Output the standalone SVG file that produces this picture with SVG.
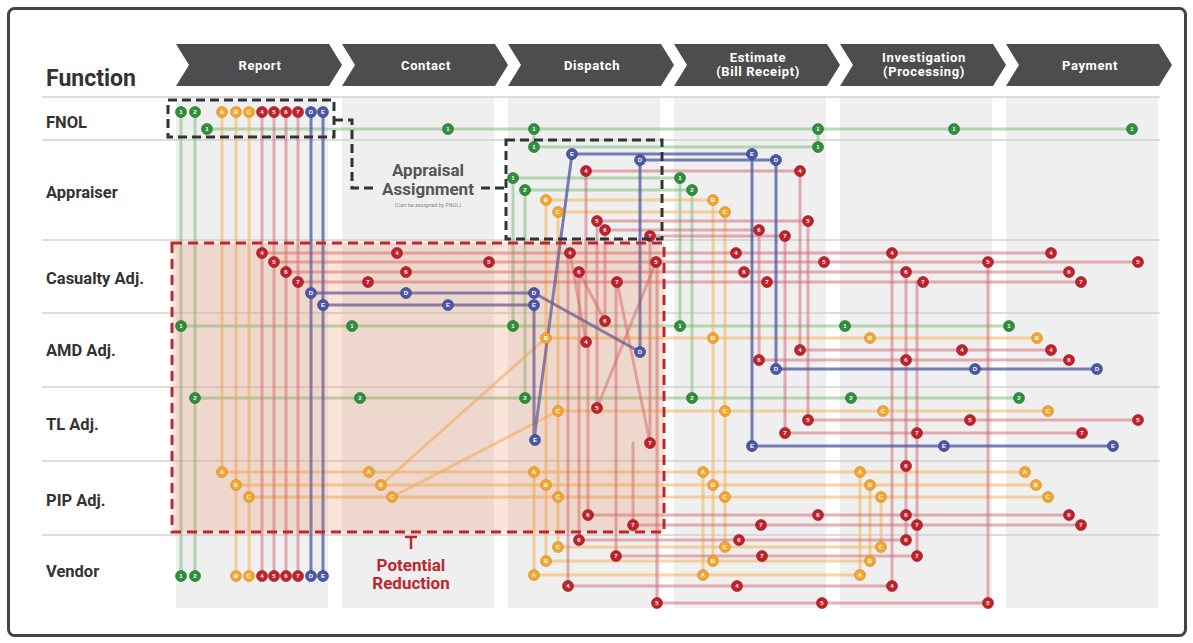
<svg xmlns="http://www.w3.org/2000/svg" xmlns:xlink="http://www.w3.org/1999/xlink" width="1193" height="643" viewBox="0 0 1193 643">
<style>
.hd{font-family:Roboto,"Liberation Sans",sans-serif;font-weight:bold;font-size:13px;fill:#fff;text-anchor:middle;letter-spacing:0.6px}
.rl{font-family:Roboto,"Liberation Sans",sans-serif;font-weight:bold;font-size:16.5px;fill:#333}
.col{fill:#efefef}
.sep{stroke:#d2d2d2;stroke-width:1.5}
.chev{fill:#4d4d4d}
.ln{fill:none;stroke-width:3;stroke-linecap:round}
.g{stroke:#7dbd7d;stroke-opacity:.55}
.o{stroke:#f4b257;stroke-opacity:.55}
.r{stroke:#d2646d;stroke-opacity:.5}
.b{stroke:#4b56a6;stroke-opacity:.75}
.dt{font-family:"Liberation Sans",sans-serif;font-weight:bold;font-size:6px;fill:#fff;text-anchor:middle}
.dash{fill:none;stroke:#333;stroke-width:3;stroke-dasharray:9 5}
</style>
<defs>
<g id="g1"><circle r="5.5" fill="#2f8f3c" stroke="#1f6a2a" stroke-width=".6"/><text class="dt" y="2.2">1</text></g>
<g id="g2"><circle r="5.5" fill="#2f8f3c" stroke="#1f6a2a" stroke-width=".6"/><text class="dt" y="2.2">2</text></g>
<g id="oA"><circle r="5.5" fill="#f2a531" stroke="#d08a20" stroke-width=".6"/><text class="dt" y="2.2">A</text></g>
<g id="oB"><circle r="5.5" fill="#f2a531" stroke="#d08a20" stroke-width=".6"/><text class="dt" y="2.2">B</text></g>
<g id="oC"><circle r="5.5" fill="#f2a531" stroke="#d08a20" stroke-width=".6"/><text class="dt" y="2.2">C</text></g>
<g id="r4"><circle r="5.5" fill="#c0212b" stroke="#8e1820" stroke-width=".6"/><text class="dt" y="2.2">4</text></g>
<g id="r5"><circle r="5.5" fill="#c0212b" stroke="#8e1820" stroke-width=".6"/><text class="dt" y="2.2">5</text></g>
<g id="r6"><circle r="5.5" fill="#c0212b" stroke="#8e1820" stroke-width=".6"/><text class="dt" y="2.2">6</text></g>
<g id="r7"><circle r="5.5" fill="#c0212b" stroke="#8e1820" stroke-width=".6"/><text class="dt" y="2.2">7</text></g>
<g id="bD"><circle r="5.5" fill="#4a56a6" stroke="#323c80" stroke-width=".6"/><text class="dt" y="2.2">D</text></g>
<g id="bE"><circle r="5.5" fill="#4a56a6" stroke="#323c80" stroke-width=".6"/><text class="dt" y="2.2">E</text></g>
</defs>
<rect x="0" y="0" width="1193" height="643" fill="#fff"/>
<rect x="8.5" y="8.5" width="1177" height="627" rx="6" fill="none" stroke="#444" stroke-width="3"/>

<g id="columns">
<rect class="col" x="176" y="97" width="152" height="511"/>
<rect class="col" x="342" y="97" width="152" height="511"/>
<rect class="col" x="508" y="97" width="152" height="511"/>
<rect class="col" x="674" y="97" width="152" height="511"/>
<rect class="col" x="840" y="97" width="152" height="511"/>
<rect class="col" x="1006" y="97" width="152" height="511"/>
</g>
<g id="rows">
<line class="sep" x1="42" y1="97" x2="1160" y2="97"/>
<line class="sep" x1="42" y1="140" x2="1160" y2="140"/>
<line class="sep" x1="42" y1="240" x2="1160" y2="240"/>
<line class="sep" x1="42" y1="313" x2="1160" y2="313"/>
<line class="sep" x1="42" y1="387" x2="1160" y2="387"/>
<line class="sep" x1="42" y1="461" x2="1160" y2="461"/>
<line class="sep" x1="42" y1="535" x2="1160" y2="535"/>
</g>

<g id="header">
<text x="46" y="86" font-family="Roboto,'Liberation Sans',sans-serif" font-weight="bold" font-size="23" fill="#333">Function</text>
<g id="step-report"><path class="chev" d="M176,44H329L342,65L329,86H176L189,65Z"/><text class="hd" x="260" y="70">Report</text></g>
<g id="step-contact"><path class="chev" d="M342,44H495L508,65L495,86H342L355,65Z"/><text class="hd" x="426" y="70">Contact</text></g>
<g id="step-dispatch"><path class="chev" d="M508,44H661L674,65L661,86H508L521,65Z"/><text class="hd" x="592" y="70">Dispatch</text></g>
<g id="step-estimate"><path class="chev" d="M674,44H827L840,65L827,86H674L687,65Z"/><text class="hd" x="758" y="62">Estimate</text><text class="hd" x="758" y="76">(Bill Receipt)</text></g>
<g id="step-investigation"><path class="chev" d="M840,44H993L1006,65L993,86H840L853,65Z"/><text class="hd" x="924" y="62">Investigation</text><text class="hd" x="924" y="76">(Processing)</text></g>
<g id="step-payment"><path class="chev" d="M1006,44H1159L1172,65L1159,86H1006L1019,65Z"/><text class="hd" x="1090" y="70">Payment</text></g>
</g>

<g id="lanes">
<text class="rl" x="46" y="128">FNOL</text>
<text class="rl" x="46" y="198">Appraiser</text>
<text class="rl" x="46" y="284">Casualty Adj.</text>
<text class="rl" x="46" y="356">AMD Adj.</text>
<text class="rl" x="46" y="430">TL Adj.</text>
<text class="rl" x="46" y="506">PIP Adj.</text>
<text class="rl" x="46" y="577">Vendor</text>
</g>

<g id="connectors">
<path class="ln g" d="M181,112V576"/>
<path class="ln g" d="M195,112V576"/>
<path class="ln g" d="M207,129H1132"/>
<path class="ln g" d="M534,129V147H818"/>
<path class="ln g" d="M818,129V147"/>
<path class="ln g" d="M513,326V178H680V326"/>
<path class="ln g" d="M525,398V190H692V398"/>
<path class="ln g" d="M181,326H1009"/>
<path class="ln g" d="M195,398H1019"/>
<path class="ln o" d="M222,112V472"/>
<path class="ln o" d="M236,112V576"/>
<path class="ln o" d="M249,112V576"/>
<path class="ln o" d="M546,561V200H713V561"/>
<path class="ln o" d="M558,547V212H725V547"/>
<path class="ln o" d="M546,338H1037"/>
<path class="ln o" d="M558,411H1048"/>
<path class="ln o" d="M222,472H1025"/>
<path class="ln o" d="M236,485H1036"/>
<path class="ln o" d="M249,497H1048"/>
<path class="ln o" d="M381,485L546,338"/>
<path class="ln o" d="M392,497L558,411"/>
<path class="ln o" d="M534,472V575H860V472"/>
<path class="ln o" d="M703,472V575"/>
<path class="ln o" d="M546,561H870V485"/>
<path class="ln o" d="M558,547H881V497"/>
<path class="ln r" d="M262,112V576"/>
<path class="ln r" d="M274,112V576"/>
<path class="ln r" d="M286,112V576"/>
<path class="ln r" d="M298,112V576"/>
<path class="ln r" d="M262,253H1051"/>
<path class="ln r" d="M274,262H1138"/>
<path class="ln r" d="M286,272H1069"/>
<path class="ln r" d="M298,282H1081"/>
<path class="ln r" d="M586,342V171H800V350H1051"/>
<path class="ln r" d="M597,408V221H808V420H1138"/>
<path class="ln r" d="M605,321V230H759V360H1069"/>
<path class="ln r" d="M650,443V236H785V433H1082"/>
<path class="ln r" d="M570,253L586,342"/>
<path class="ln r" d="M579,272L605,321"/>
<path class="ln r" d="M617,282L650,443"/>
<path class="ln r" d="M656,262L597,408"/>
<path class="ln r" d="M568,253V586H892"/>
<path class="ln r" d="M579,272V540H906"/>
<path class="ln r" d="M616,282V556H917"/>
<path class="ln r" d="M657,262V603H988"/>
<path class="ln r" d="M588,342V515H1069"/>
<path class="ln r" d="M633,443V525H1081"/>
<path class="ln r" d="M892,253V586"/>
<path class="ln r" d="M906,272V540"/>
<path class="ln r" d="M917,282V556"/>
<path class="ln r" d="M988,262V603"/>
<path class="ln b" d="M311,112V576"/>
<path class="ln b" d="M323,112V576"/>
<path class="ln b" d="M311,293H534L640,352V160H776V369H1097"/>
<path class="ln b" d="M323,305H534V440L572,154H752V446H1113"/>
</g>

<g id="reduction-fill">
<rect x="172" y="243" width="492" height="289" fill="#ea7a45" fill-opacity=".2"/>
</g>

<g id="dots">
<use href="#g1" x="181" y="112"/><use href="#g1" x="181" y="576"/><use href="#g1" x="207" y="129"/><use href="#g1" x="448" y="129"/><use href="#g1" x="534" y="129"/><use href="#g1" x="818" y="129"/><use href="#g1" x="954" y="129"/><use href="#g1" x="1132" y="129"/><use href="#g1" x="534" y="147"/><use href="#g1" x="818" y="147"/><use href="#g1" x="513" y="178"/><use href="#g1" x="680" y="178"/><use href="#g1" x="181" y="326"/><use href="#g1" x="352" y="326"/><use href="#g1" x="513" y="326"/><use href="#g1" x="680" y="326"/><use href="#g1" x="845" y="326"/><use href="#g1" x="1009" y="326"/>
<use href="#g2" x="195" y="112"/><use href="#g2" x="195" y="576"/><use href="#g2" x="525" y="190"/><use href="#g2" x="692" y="190"/><use href="#g2" x="195" y="398"/><use href="#g2" x="360" y="398"/><use href="#g2" x="525" y="398"/><use href="#g2" x="692" y="398"/><use href="#g2" x="851" y="398"/><use href="#g2" x="1019" y="398"/>
<use href="#oA" x="222" y="112"/><use href="#oA" x="222" y="472"/><use href="#oA" x="369" y="472"/><use href="#oA" x="534" y="472"/><use href="#oA" x="703" y="472"/><use href="#oA" x="860" y="472"/><use href="#oA" x="1025" y="472"/><use href="#oA" x="534" y="575"/><use href="#oA" x="703" y="575"/><use href="#oA" x="860" y="575"/>
<use href="#oB" x="236" y="112"/><use href="#oB" x="236" y="576"/><use href="#oB" x="546" y="200"/><use href="#oB" x="713" y="200"/><use href="#oB" x="546" y="338"/><use href="#oB" x="713" y="338"/><use href="#oB" x="870" y="338"/><use href="#oB" x="1037" y="338"/><use href="#oB" x="236" y="485"/><use href="#oB" x="381" y="485"/><use href="#oB" x="546" y="485"/><use href="#oB" x="713" y="485"/><use href="#oB" x="870" y="485"/><use href="#oB" x="1036" y="485"/><use href="#oB" x="546" y="561"/><use href="#oB" x="713" y="561"/><use href="#oB" x="870" y="561"/>
<use href="#oC" x="249" y="112"/><use href="#oC" x="249" y="576"/><use href="#oC" x="558" y="212"/><use href="#oC" x="725" y="212"/><use href="#oC" x="558" y="411"/><use href="#oC" x="725" y="411"/><use href="#oC" x="883" y="411"/><use href="#oC" x="1048" y="411"/><use href="#oC" x="249" y="497"/><use href="#oC" x="392" y="497"/><use href="#oC" x="558" y="497"/><use href="#oC" x="725" y="497"/><use href="#oC" x="881" y="497"/><use href="#oC" x="1048" y="497"/><use href="#oC" x="558" y="547"/><use href="#oC" x="725" y="547"/><use href="#oC" x="881" y="547"/>
<use href="#r4" x="262" y="112"/><use href="#r4" x="262" y="576"/><use href="#r4" x="262" y="253"/><use href="#r4" x="397" y="253"/><use href="#r4" x="570" y="253"/><use href="#r4" x="736" y="253"/><use href="#r4" x="892" y="253"/><use href="#r4" x="1051" y="253"/><use href="#r4" x="586" y="171"/><use href="#r4" x="800" y="171"/><use href="#r4" x="586" y="342"/><use href="#r4" x="800" y="350"/><use href="#r4" x="962" y="350"/><use href="#r4" x="1051" y="350"/><use href="#r4" x="568" y="586"/><use href="#r4" x="737" y="586"/><use href="#r4" x="892" y="586"/>
<use href="#r5" x="274" y="112"/><use href="#r5" x="274" y="576"/><use href="#r5" x="274" y="262"/><use href="#r5" x="489" y="262"/><use href="#r5" x="656" y="262"/><use href="#r5" x="824" y="262"/><use href="#r5" x="988" y="262"/><use href="#r5" x="1138" y="262"/><use href="#r5" x="597" y="221"/><use href="#r5" x="808" y="221"/><use href="#r5" x="597" y="408"/><use href="#r5" x="808" y="420"/><use href="#r5" x="970" y="420"/><use href="#r5" x="1138" y="420"/><use href="#r5" x="657" y="603"/><use href="#r5" x="822" y="603"/><use href="#r5" x="988" y="603"/>
<use href="#r6" x="286" y="112"/><use href="#r6" x="286" y="576"/><use href="#r6" x="286" y="272"/><use href="#r6" x="406" y="272"/><use href="#r6" x="579" y="272"/><use href="#r6" x="744" y="272"/><use href="#r6" x="906" y="272"/><use href="#r6" x="1069" y="272"/><use href="#r6" x="605" y="230"/><use href="#r6" x="759" y="230"/><use href="#r6" x="605" y="321"/><use href="#r6" x="759" y="360"/><use href="#r6" x="906" y="360"/><use href="#r6" x="1069" y="360"/><use href="#r6" x="906" y="466"/><use href="#r6" x="588" y="515"/><use href="#r6" x="818" y="515"/><use href="#r6" x="906" y="515"/><use href="#r6" x="1069" y="515"/><use href="#r6" x="579" y="540"/><use href="#r6" x="739" y="540"/><use href="#r6" x="906" y="540"/>
<use href="#r7" x="298" y="112"/><use href="#r7" x="298" y="576"/><use href="#r7" x="298" y="282"/><use href="#r7" x="368" y="282"/><use href="#r7" x="617" y="282"/><use href="#r7" x="767" y="282"/><use href="#r7" x="923" y="282"/><use href="#r7" x="1081" y="282"/><use href="#r7" x="650" y="236"/><use href="#r7" x="785" y="236"/><use href="#r7" x="650" y="443"/><use href="#r7" x="785" y="433"/><use href="#r7" x="917" y="433"/><use href="#r7" x="1082" y="433"/><use href="#r7" x="633" y="525"/><use href="#r7" x="761" y="525"/><use href="#r7" x="917" y="525"/><use href="#r7" x="1081" y="525"/><use href="#r7" x="616" y="556"/><use href="#r7" x="762" y="556"/><use href="#r7" x="917" y="556"/>
<use href="#bD" x="311" y="112"/><use href="#bD" x="311" y="576"/><use href="#bD" x="311" y="293"/><use href="#bD" x="406" y="293"/><use href="#bD" x="534" y="293"/><use href="#bD" x="640" y="160"/><use href="#bD" x="776" y="160"/><use href="#bD" x="640" y="352"/><use href="#bD" x="776" y="369"/><use href="#bD" x="975" y="369"/><use href="#bD" x="1097" y="369"/>
<use href="#bE" x="323" y="112"/><use href="#bE" x="323" y="576"/><use href="#bE" x="323" y="305"/><use href="#bE" x="448" y="305"/><use href="#bE" x="534" y="305"/><use href="#bE" x="572" y="154"/><use href="#bE" x="752" y="154"/><use href="#bE" x="535" y="440"/><use href="#bE" x="752" y="446"/><use href="#bE" x="944" y="446"/><use href="#bE" x="1113" y="446"/>
</g>

<g id="fnol-box"><rect class="dash" x="168" y="100" width="166" height="37"/></g>
<g id="dispatch-box"><rect class="dash" x="506" y="140" width="156" height="99"/></g>
<g id="appraisal-assignment">
<path class="dash" d="M334,120H352V188H376"/>
<path class="dash" d="M481,188H506"/>
<text x="428" y="176" font-family="Roboto,'Liberation Sans',sans-serif" font-weight="bold" font-size="17" fill="#555" text-anchor="middle">Appraisal</text>
<text x="428" y="195" font-family="Roboto,'Liberation Sans',sans-serif" font-weight="bold" font-size="17" fill="#555" text-anchor="middle">Assignment</text>
<text x="428" y="207" font-family="Roboto,'Liberation Sans',sans-serif" font-size="5.5" fill="#888" text-anchor="middle">(Can be assigned by FNOL)</text>
</g>
<g id="potential-reduction">
<rect x="172" y="243" width="492" height="289" fill="none" stroke="#c0262e" stroke-width="3" stroke-dasharray="10 6"/>
<path d="M405,537H417M411,537V549" stroke="#c0262e" stroke-width="2.5" fill="none"/>
<text x="411" y="571" font-family="Roboto,'Liberation Sans',sans-serif" font-weight="bold" font-size="17" fill="#c0262e" text-anchor="middle">Potential</text>
<text x="411" y="589" font-family="Roboto,'Liberation Sans',sans-serif" font-weight="bold" font-size="17" fill="#c0262e" text-anchor="middle">Reduction</text>
</g>
</svg>
